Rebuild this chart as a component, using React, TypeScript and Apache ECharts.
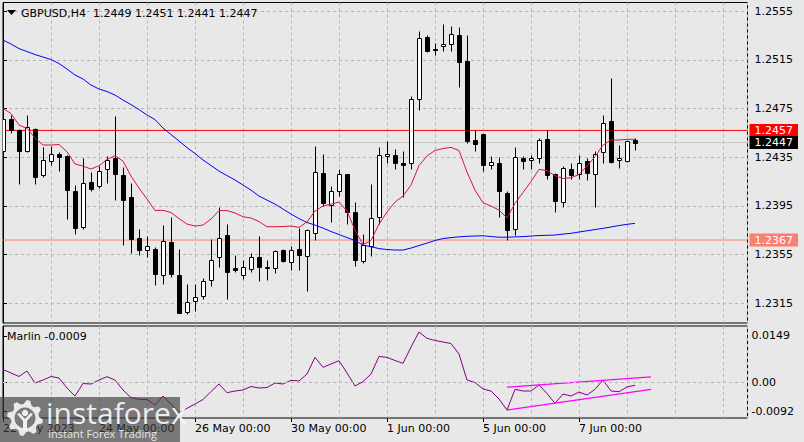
import React, { useEffect, useRef } from 'react';
import * as echarts from 'echarts';

// ---------------- data ----------------
const symbolLabel = 'GBPUSD,H4';
const indicatorName = 'Marlin';

const opens = [
  1.2440, 1.2466, 1.2457, 1.2440, 1.2458, 1.2420, 1.2432, 1.2438, 1.2436, 1.2407,
  1.2378, 1.2415, 1.2411, 1.2425, 1.2434, 1.2420, 1.2402, 1.2369, 1.2359, 1.2360,
  1.2338, 1.2365, 1.2338, 1.2308, 1.2317, 1.2321, 1.2334, 1.2353, 1.2371, 1.2344,
  1.2338, 1.2343, 1.2353, 1.2344, 1.2344, 1.2359, 1.2349, 1.2360, 1.2354, 1.2373,
  1.2422, 1.2396, 1.2407, 1.2421, 1.2390, 1.2350, 1.2362, 1.2386, 1.2436, 1.2437,
  1.2430, 1.2430, 1.2483, 1.2534, 1.2524, 1.2526, 1.2528, 1.2535, 1.2514, 1.2449,
  1.2454, 1.2429, 1.2430, 1.2406, 1.2376, 1.2434, 1.2433, 1.2434, 1.2450, 1.2421,
  1.2398, 1.2425, 1.2421, 1.2432, 1.2421, 1.2439, 1.2465, 1.2433, 1.2432, 1.2449,
];
const closes = [
  1.2466, 1.2457, 1.2440, 1.2460, 1.2419, 1.2433, 1.2438, 1.2435, 1.2408, 1.2377,
  1.2414, 1.2409, 1.2424, 1.2433, 1.2421, 1.2400, 1.2368, 1.2359, 1.2362, 1.2339,
  1.2366, 1.2339, 1.2307, 1.2316, 1.2320, 1.2333, 1.2351, 1.2369, 1.2341, 1.2342,
  1.2345, 1.2353, 1.2345, 1.2345, 1.2358, 1.2350, 1.2359, 1.2355, 1.2375, 1.2423,
  1.2397, 1.2407, 1.2421, 1.2390, 1.2351, 1.2363, 1.2385, 1.2437, 1.2438, 1.2430,
  1.2429, 1.2483, 1.2533, 1.2522, 1.2523, 1.2528, 1.2536, 1.2513, 1.2448, 1.2446,
  1.2429, 1.2431, 1.2407, 1.2375, 1.2435, 1.2432, 1.2434, 1.2449, 1.2420, 1.2399,
  1.2426, 1.2420, 1.2430, 1.2422, 1.2438, 1.2463, 1.2431, 1.2434, 1.2448, 1.2447,
];
const highs = [
  1.2468, 1.2470, 1.2458, 1.2470, 1.2459, 1.2443, 1.2444, 1.2439, 1.2437, 1.2412,
  1.2434, 1.2423, 1.2428, 1.2436, 1.2469, 1.2427, 1.2414, 1.2376, 1.2370, 1.2361,
  1.2379, 1.2386, 1.2360, 1.2331, 1.2331, 1.2336, 1.2368, 1.2394, 1.2380, 1.2355,
  1.2351, 1.2356, 1.2370, 1.2351, 1.2359, 1.2360, 1.2362, 1.2377, 1.2376, 1.2444,
  1.2438, 1.2411, 1.2425, 1.2421, 1.2398, 1.2372, 1.2413, 1.2443, 1.2448, 1.2442,
  1.2440, 1.2485, 1.2539, 1.2535, 1.2529, 1.2544, 1.2543, 1.2542, 1.2535, 1.2457,
  1.2455, 1.2436, 1.2435, 1.2407, 1.2443, 1.2436, 1.2437, 1.2451, 1.2457, 1.2422,
  1.2428, 1.2430, 1.2437, 1.2434, 1.2440, 1.2470, 1.2500, 1.2445, 1.2449, 1.2451,
];
const lows = [
  1.2438, 1.2455, 1.2413, 1.2439, 1.2413, 1.2419, 1.2429, 1.2424, 1.2384, 1.2372,
  1.2376, 1.2407, 1.2410, 1.2414, 1.2400, 1.2363, 1.2356, 1.2355, 1.2353, 1.2330,
  1.2331, 1.2337, 1.2307, 1.2306, 1.2309, 1.2319, 1.2329, 1.2345, 1.2319, 1.2341,
  1.2335, 1.2341, 1.2333, 1.2334, 1.2340, 1.2349, 1.2342, 1.2342, 1.2325, 1.2367,
  1.2395, 1.2382, 1.2403, 1.2380, 1.2346, 1.2348, 1.2354, 1.2380, 1.2430, 1.2425,
  1.2402, 1.2425, 1.2474, 1.2521, 1.2519, 1.2522, 1.2522, 1.2493, 1.2447, 1.2440,
  1.2424, 1.2425, 1.2386, 1.2367, 1.2371, 1.2425, 1.2425, 1.2430, 1.2417, 1.2390,
  1.2394, 1.2417, 1.2417, 1.2416, 1.2394, 1.2430, 1.2430, 1.2426, 1.2431, 1.2441,
];
const redMA = [
  1.24751, 1.24708, 1.24614, 1.24587, 1.24507, 1.24450, 1.24450, 1.24454, 1.24395, 1.24294,
  1.24277, 1.24253, 1.24280, 1.24332, 1.24362, 1.24318, 1.24195, 1.24097, 1.24007, 1.23912,
  1.23914, 1.23896, 1.23846, 1.23801, 1.23785, 1.23793, 1.23842, 1.23912, 1.23912, 1.23892,
  1.23861, 1.23851, 1.23822, 1.23779, 1.23779, 1.23781, 1.23785, 1.23774, 1.23818, 1.23908,
  1.23949, 1.23965, 1.23982, 1.23908, 1.23752, 1.23633, 1.23666, 1.23801, 1.23900, 1.23982,
  1.24031, 1.24121, 1.24282, 1.24360, 1.24405, 1.24421, 1.24431, 1.24405, 1.24228, 1.24080,
  1.23976, 1.23949, 1.23916, 1.23851, 1.23971, 1.24060, 1.24150, 1.24250, 1.24240, 1.24198,
  1.24176, 1.24181, 1.24208, 1.24277, 1.24354, 1.24450, 1.24491, 1.24491, 1.24497, 1.24497,
];
const blueMA = [
  1.25312, 1.25279, 1.25242, 1.25217, 1.25193, 1.25172, 1.25152, 1.25119, 1.25074, 1.25025,
  1.24992, 1.24942, 1.24910, 1.24889, 1.24860, 1.24819, 1.24782, 1.24741, 1.24696, 1.24659,
  1.24589, 1.24536, 1.24483, 1.24429, 1.24380, 1.24327, 1.24282, 1.24236, 1.24199, 1.24163,
  1.24121, 1.24080, 1.24031, 1.23998, 1.23965, 1.23924, 1.23883, 1.23846, 1.23814, 1.23793,
  1.23768, 1.23740, 1.23715, 1.23690, 1.23666, 1.23629, 1.23615, 1.23600, 1.23592, 1.23588,
  1.23588, 1.23604, 1.23625, 1.23645, 1.23666, 1.23682, 1.23690, 1.23696, 1.23701, 1.23703,
  1.23705, 1.23699, 1.23693, 1.23693, 1.23696, 1.23698, 1.23703, 1.23707, 1.23709, 1.23711,
  1.23719, 1.23725, 1.23736, 1.23746, 1.23756, 1.23766, 1.23777, 1.23789, 1.23799, 1.23807,
];
const marlin = [
  0.00416, 0.00304, 0.00192, 0.00368, -0.00016, 0.00080, 0.00192, 0.00144, -0.00176, -0.00432,
  -0.00032, -0.00048, 0.00080, 0.00186, 0.00080, -0.00240, -0.00480, -0.00538, -0.00544, -0.00720,
  -0.00432, -0.00688, -0.00960, -0.00826, -0.00688, -0.00544, -0.00288, -0.00048, -0.00326, -0.00272,
  -0.00240, -0.00128, -0.00176, -0.00160, -0.00016, -0.00048, 0.00070, 0.00048, 0.00272, 0.00806,
  0.00486, 0.00592, 0.00698, 0.00304, -0.00112, 0.00026, 0.00272, 0.00832, 0.00806, 0.00704,
  0.00614, 0.01136, 0.01616, 0.01414, 0.01344, 0.01296, 0.01248, 0.00912, 0.00080, 0.00000,
  -0.00208, -0.00272, -0.00528, -0.00880, -0.00218, -0.00272, -0.00272, -0.00080, -0.00352, -0.00666,
  -0.00368, -0.00432, -0.00304, -0.00400, -0.00218, 0.00080, -0.00272, -0.00294, -0.00140, -0.00090,
];
const trendUpper = [[63, -0.0015], [81, 0.0018]];
const trendLower = [[63, -0.0088], [81, -0.0022]];
const resistanceLevel = 1.2457;
const supportLevel = 1.2367;
const priceTicks = [1.2315, 1.2355, 1.2395, 1.2435, 1.2475, 1.2515, 1.2555];
const marlinTicks = [-0.0092, 0, 0.0149];
const dateTickIndex = [0, 12, 24, 36, 48, 60, 72];
const dateTickLabels = ['22 May 2023', '24 May 00:00', '26 May 00:00', '30 May 00:00', '1 Jun 00:00', '5 Jun 00:00', '7 Jun 00:00'];

// ---------------- layout ----------------
const PRICE_MIN = 1.22989;
const PRICE_MAX = 1.2562;
const MARLIN_MIN = -0.01136;
const MARLIN_MAX = 0.01808;
const X_MAX = 93.0625;
const FONT = 'DejaVu Sans';
const BG = '#e8e8e8';

export default function App() {
  const ref = useRef<HTMLDivElement>(null);

  useEffect(() => {
    if (!ref.current) return;
    const chart = echarts.init(ref.current, undefined, { renderer: 'svg' });

    const last = opens.length - 1;
    const candleData = opens.map((o, i) => [i, o, closes[i], lows[i], highs[i]]);
    const gridLine = { show: true, lineStyle: { color: '#b6b6b6', type: [3, 3] as any, width: 1 } };

    const levelSeries = (name: string, v: number, lineColor: string, boxColor: string, z: number) => ({
      name, type: 'line', xAxisIndex: 0, yAxisIndex: 0, z, symbol: 'none', showSymbol: false, silent: true,
      data: [[0, v], [X_MAX, v]],
      lineStyle: { color: lineColor, width: 1 },
      endLabel: {
        show: true, distance: 2, formatter: v.toFixed(4), color: '#fff', backgroundColor: boxColor,
        padding: [1, 5, 0, 5], fontFamily: FONT, fontSize: 11, lineHeight: 12,
      },
    });

    // gear outline for watermark logo (decoration)
    const gearPts: number[][] = [];
    const gcx = 25, gcy = 418, teeth = 8;
    for (let k = 0; k < teeth * 4; k++) {
      const a = (k / (teeth * 4)) * Math.PI * 2 + Math.PI / 32;
      const r = k % 4 < 2 ? 18 : 14;
      gearPts.push([gcx + r * Math.cos(a), gcy + r * Math.sin(a)]);
    }

    const header = `${symbolLabel}  ${opens[last].toFixed(4)} ${highs[last].toFixed(4)} ${lows[last].toFixed(4)} ${closes[last].toFixed(4)}`;

    chart.setOption({
      animation: false,
      backgroundColor: BG,
      textStyle: { fontFamily: FONT, fontSize: 11, color: '#000' },
      grid: [
        { left: 3, top: 2.5, width: 744.5, height: 320.5, show: true, borderColor: '#000', borderWidth: 1, backgroundColor: 'transparent' },
        { left: 3, top: 326, width: 744.5, height: 92, show: true, borderColor: '#000', borderWidth: 1, backgroundColor: 'transparent' },
      ],
      xAxis: [
        { type: 'value', gridIndex: 0, min: 0, max: X_MAX, interval: 6, axisLine: { show: false }, axisTick: { show: false }, axisLabel: { show: false }, splitLine: gridLine },
        { type: 'value', gridIndex: 1, position: 'top', min: 0, max: X_MAX, interval: 6, axisLine: { show: false }, axisTick: { show: false }, axisLabel: { show: false }, splitLine: gridLine },
        {
          type: 'value', gridIndex: 1, position: 'bottom', min: 0, max: X_MAX,
          axisLine: { show: false }, splitLine: { show: false },
          axisTick: { show: true, customValues: dateTickIndex, length: 4, lineStyle: { color: '#000' } },
          axisLabel: {
            show: true, customValues: dateTickIndex, align: 'left', margin: 5, color: '#000', fontFamily: FONT, fontSize: 11,
            formatter: (v: number) => dateTickLabels[dateTickIndex.indexOf(Math.round(v))] ?? '',
          },
        },
      ],
      yAxis: [
        {
          type: 'value', gridIndex: 0, position: 'right', min: PRICE_MIN, max: PRICE_MAX,
          axisLine: { show: true, lineStyle: { color: '#000' } },
          axisTick: { show: true, customValues: priceTicks, length: 4, lineStyle: { color: '#000' } },
          axisLabel: { customValues: priceTicks, margin: 7, color: '#000', fontFamily: FONT, fontSize: 11, formatter: (v: number) => v.toFixed(4) },
          splitLine: gridLine,
        },
        {
          type: 'value', gridIndex: 1, position: 'right', min: MARLIN_MIN, max: MARLIN_MAX,
          axisLine: { show: true, lineStyle: { color: '#000' } },
          axisTick: { show: true, customValues: marlinTicks, length: 4, lineStyle: { color: '#000' } },
          axisLabel: { customValues: marlinTicks, margin: 4, color: '#000', fontFamily: FONT, fontSize: 11, formatter: (v: number) => (Math.abs(v) < 1e-9 ? '0.00' : v.toFixed(4)) },
          splitLine: { show: false },
        },
      ],
      series: [
        levelSeries('support', supportLevel, '#f7806f', '#fa8072', 1),
        levelSeries('resistance', resistanceLevel, '#ff0000', '#ff0000', 1),
        levelSeries('bid', closes[last], '#c4c4c4', '#000000', 1),
        {
          name: 'candles', type: 'custom', xAxisIndex: 0, yAxisIndex: 0, z: 2, clip: true,
          data: candleData,
          encode: { x: 0, y: [1, 2, 3, 4] },
          renderItem: (_params: any, api: any) => {
            const i = api.value(0);
            const o = api.value(1), c = api.value(2), l = api.value(3), h = api.value(4);
            const pO = api.coord([i, o]);
            const pC = api.coord([i, c]);
            const pL = api.coord([i, l]);
            const pH = api.coord([i, h]);
            const x = Math.round(pO[0]) + 0.5;
            const yTop = Math.round(Math.min(pO[1], pC[1])) + 0.5;
            const yBot = Math.round(Math.max(pO[1], pC[1])) + 0.5;
            const bull = c >= o;
            return {
              type: 'group',
              children: [
                { type: 'line', shape: { x1: x, y1: Math.round(pH[1]) + 0.5, x2: x, y2: Math.round(pL[1]) + 0.5 }, style: { stroke: '#000', lineWidth: 1 } },
                { type: 'rect', shape: { x: x - 2, y: yTop, width: 4, height: Math.max(yBot - yTop, 0) }, style: { fill: bull ? '#ffffff' : '#000000', stroke: '#000', lineWidth: 1 } },
              ],
            };
          },
        },
        {
          name: 'MA slow', type: 'line', xAxisIndex: 0, yAxisIndex: 0, z: 3, symbol: 'none', showSymbol: false,
          data: blueMA.map((v, i) => [i, v]), lineStyle: { color: '#0000ff', width: 1 },
        },
        {
          name: 'MA fast', type: 'line', xAxisIndex: 0, yAxisIndex: 0, z: 3, symbol: 'none', showSymbol: false,
          data: redMA.map((v, i) => [i, v]), lineStyle: { color: '#dc143c', width: 1 },
        },
        {
          name: indicatorName, type: 'line', xAxisIndex: 1, yAxisIndex: 1, z: 3, symbol: 'none', showSymbol: false,
          data: marlin.map((v, i) => [i, v]), lineStyle: { color: '#800080', width: 1 },
          markLine: {
            silent: true, symbol: 'none', animation: false, label: { show: false },
            data: [{ yAxis: 0, lineStyle: { color: '#b6b6b6', width: 1, type: [3, 3] } }],
          },
        },
        {
          name: 'trend upper', type: 'line', xAxisIndex: 1, yAxisIndex: 1, z: 4, symbol: 'none', showSymbol: false,
          data: trendUpper, lineStyle: { color: '#ff00ff', width: 1.3 },
        },
        {
          name: 'trend lower', type: 'line', xAxisIndex: 1, yAxisIndex: 1, z: 4, symbol: 'none', showSymbol: false,
          data: trendLower, lineStyle: { color: '#ff00ff', width: 1.3 },
        },
      ],
      graphic: [
        { type: 'polygon', z: 50, shape: { points: [[7, 10], [16, 10], [11.5, 15]] }, style: { fill: '#000' } },
        { type: 'text', z: 50, x: 21, y: 13, style: { text: header, fill: '#000', font: `11px "${FONT}"`, verticalAlign: 'middle' } },
        { type: 'text', z: 50, x: 7, y: 336, style: { text: `${indicatorName} ${marlin[last].toFixed(4)}`, fill: '#000', font: `11px "${FONT}"`, verticalAlign: 'middle' } },
        // watermark
        { type: 'rect', z: 100, shape: { x: 0, y: 397, width: 180, height: 45 }, style: { fill: 'rgba(62,62,62,0.66)' } },
        { type: 'polygon', z: 101, shape: { points: gearPts }, style: { fill: 'rgba(245,245,245,0.92)' } },
        { type: 'circle', z: 102, shape: { cx: gcx, cy: gcy, r: 10.5 }, style: { fill: '#7a7a7a' } },
        { type: 'circle', z: 103, shape: { cx: gcx, cy: gcy - 5, r: 3.2 }, style: { fill: 'rgba(245,245,245,0.95)' } },
        { type: 'polygon', z: 103, shape: { points: [[gcx - 8, gcy - 4], [gcx - 5.5, gcy - 5], [gcx, gcy + 1], [gcx + 5.5, gcy - 5], [gcx + 8, gcy - 4], [gcx + 2, gcy + 3], [gcx + 2, gcy + 12], [gcx - 2, gcy + 12], [gcx - 2, gcy + 3]] }, style: { fill: 'rgba(245,245,245,0.95)' } },
        { type: 'text', z: 103, x: 46, y: 412, style: { text: 'instaforex', fill: 'rgba(250,250,250,0.92)', font: '30px "Open Sans"', verticalAlign: 'middle' } },
        { type: 'text', z: 103, x: 48, y: 433, style: { text: 'Instant Forex Trading', fill: 'rgba(250,250,250,0.88)', font: '11px "Open Sans"', verticalAlign: 'middle' } },
      ],
    });

    return () => chart.dispose();
  }, []);

  return <div ref={ref} style={{ position: 'fixed', left: 0, top: 0, width: 804, height: 442, background: BG }} />;
}
